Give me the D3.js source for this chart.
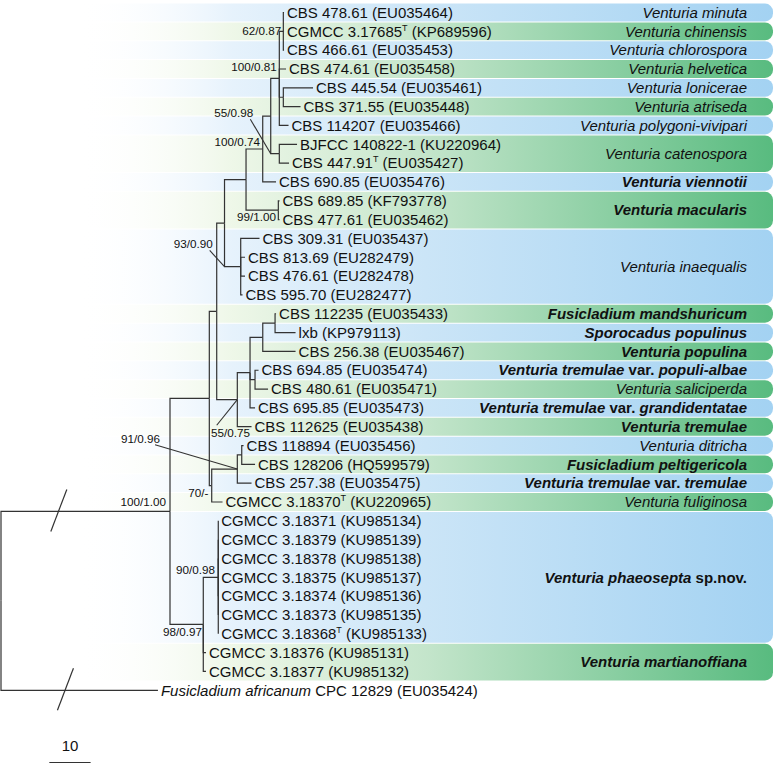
<!DOCTYPE html>
<html><head><meta charset="utf-8">
<script src="https://cdn.jsdelivr.net/npm/d3@7"></script>
<style>html,body{margin:0;padding:0;background:#fff;} svg{display:block;font-family:"Liberation Sans",Arial,Helvetica,sans-serif;}</style>
</head><body><svg id="chart" width="774" height="765"></svg>
<script>
// ---------------- DATA ----------------
const leafStrains = [
  "CBS 478.61","CGMCC 3.17685","CBS 466.61","CBS 474.61","CBS 445.54","CBS 371.55","CBS 114207",
  "BJFCC 140822-1","CBS 447.91","CBS 690.85","CBS 689.85","CBS 477.61",
  "CBS 309.31","CBS 813.69","CBS 476.61","CBS 595.70",
  "CBS 112235","lxb","CBS 256.38","CBS 694.85","CBS 480.61","CBS 695.85","CBS 112625",
  "CBS 118894","CBS 128206","CBS 257.38","CGMCC 3.18370",
  "CGMCC 3.18371","CGMCC 3.18379","CGMCC 3.18378","CGMCC 3.18375","CGMCC 3.18374","CGMCC 3.18373","CGMCC 3.18368",
  "CGMCC 3.18376","CGMCC 3.18377","CPC 12829"];
const leafAccessions = [
  "EU035464","KP689596","EU035453","EU035458","EU035461","EU035448","EU035466",
  "KU220964","EU035427","EU035476","KF793778","EU035462",
  "EU035437","EU282479","EU282478","EU282477",
  "EU035433","KP979113","EU035467","EU035474","EU035471","EU035473","EU035438",
  "EU035456","HQ599579","EU035475","KU220965",
  "KU985134","KU985139","KU985138","KU985137","KU985136","KU985135","KU985133",
  "KU985131","KU985132","EU035424"];
const typeStrains = ["CGMCC 3.17685","CBS 447.91","CGMCC 3.18370","CGMCC 3.18368"];
const outgroupTaxon = "Fusicladium africanum";

// [node, parent, branch length]
const treeEdges = [
  ["root",null,0],
  ["A","root",40.92],
  ["B","A",9.52],
  ["C","B",1.79],
  ["V","C",1.89],
  ["Z","V",5.21],
  ["W","Z",4.04],
  ["Y","W",1.94],
  ["X","Y",2.08],
  ["P","X",0.97],
  ["L0","P",0.17],["L1","P",0.17],["L2","P",0.17],
  ["L3","X",1.62],
  ["Lon","X",0.97],
  ["L4","Lon",7.19],["L5","Lon",4.16],
  ["L6","X",2.23],
  ["C1","Y",2.08],
  ["L7","C1",4.29],["L8","C1",2.35],
  ["L9","W",3.22],
  ["M","Z",7.82],
  ["L10","M",0.29],["L11","M",0.29],
  ["I","V",3.92],
  ["L12","I",4.55],["L13","I",1.04],["L14","I",1.04],["L15","I",0.44],
  ["T","C",4.99],
  ["U","T",3.08],
  ["S","U",3.08],
  ["F","S",2.98],
  ["L16","F",0.24],["L17","F",4.96],
  ["L18","S",7.94],
  ["Q1","U",1.21],
  ["L19","Q1",0.85],["L20","Q1",3.15],
  ["L21","U",1.21],
  ["L22","T",3.44],
  ["G","B",0.58],
  ["H","G",6.2],
  ["H1","H",1.07],
  ["L23","H1",0.44],["L24","H1",3.22],
  ["L25","H",3.44],
  ["L26","G",2.62],
  ["K","A",8.06],
  ["N","K",3.63],
  ["L27","N",0],["L28","N",0],["L29","N",0],["L30","N",0],["L31","N",0],["L32","N",0],["L33","N",0],
  ["L34","K",0.65],["L35","K",0.65],
  ["L36","root",38.0]
];

const supportNodes  = ["P","X","C1","W","M","I","T","H","G","A","N","K"];
const supportValues = ["62/0.87","100/0.81","55/0.98","100/0.74","99/1.00","93/0.90","55/0.75","91/0.96","70/-","100/1.00","90/0.98","98/0.97"];

const speciesNames = [
  "Venturia minuta","Venturia chinensis","Venturia chlorospora","Venturia helvetica","Venturia lonicerae",
  "Venturia atriseda","Venturia polygoni-vivipari","Venturia catenospora","Venturia viennotii","Venturia macularis",
  "Venturia inaequalis","Fusicladium mandshuricum","Sporocadus populinus","Venturia populina",
  "Venturia tremulae var. populi-albae","Venturia saliciperda","Venturia tremulae var. grandidentatae",
  "Venturia tremulae","Venturia ditricha","Fusicladium peltigericola","Venturia tremulae var. tremulae",
  "Venturia fuliginosa","Venturia phaeosepta sp.nov.","Venturia martianoffiana"];
const speciesRowCounts = [1,1,1,1,1,1,1,2,1,2,4,1,1,1,1,1,1,1,1,1,1,1,7,2];
const speciesBold = [false,false,false,false,false,false,false,false,true,true,false,true,true,true,true,false,true,true,false,true,true,false,true,true];

const scaleBarValue = 10;

// ---------------- LAYOUT (presentation only) ----------------
const W = 774, Hh = 765;
const labelLayout = {
  P:{dx:-2,dy:0}, X:{dx:-2.6,dy:-11.5},
  C1:{dx:-26,dy:-41,leader:"corner",lsx:-3,lsy:6.5},
  W:{dx:-2.7,dy:-7.3}, M:{dx:-2.3,dy:6.5},
  I:{dx:-28,dy:-22.7,leader:"corner",lsx:-3,lsy:6.5},
  T:{dx:12.7,dy:33.6,leader:"node",lsx:-33.3,lsy:-8},
  H:{dx:-77.3,dy:-29.8,leader:"node",lsx:-5,lsy:5.5},
  G:{dx:-3.2,dy:7}, A:{dx:-4,dy:-9.8}, N:{dx:-3.3,dy:-7.4}, K:{dx:-1.3,dy:7.2}
};

const svg = d3.select("#chart");
const defs = svg.append("defs");
function grad(id, stops){
  const g = defs.append("linearGradient").attr("id",id).attr("gradientUnits","userSpaceOnUse")
    .attr("x1",0).attr("x2",W).attr("y1",0).attr("y2",0);
  stops.forEach(s=>g.append("stop").attr("offset",s[0]).attr("stop-color",s[1]).attr("stop-opacity",s[2]));
}
grad("gBlue",[[0,"#ffffff",0],[0.1,"#ffffff",0],[0.3,"#e6f2fc",1],[0.55,"#cbe5f7",1],[1,"#a3d2f2",1]]);
grad("gGreen",[[0,"#ffffff",0],[0.1,"#ffffff",0],[0.3,"#eef7e8",1],[0.55,"#c4e5cb",1],[1,"#58bb7f",1]]);

const yScale = d3.scaleLinear().domain([0,36]).range([12.5,690.3]);
const step = yScale(1)-yScale(0);
const xScale = d3.scaleLinear().domain([0,100]).range([1,414]);

// bands
let r0 = 0;
const bands = speciesNames.map((n,i)=>{ const b={name:n,start:r0,end:r0+speciesRowCounts[i]-1,bold:speciesBold[i],i}; r0+=speciesRowCounts[i]; return b;});
const bandG = svg.append("g");
bandG.selectAll("rect").data(bands).join("rect")
  .attr("x",0).attr("width",773)
  .attr("y",d=>yScale(d.start)-step/2+0.5)
  .attr("height",d=>yScale(d.end)-yScale(d.start)+step-1)
  .attr("rx",8).attr("ry",8)
  .attr("fill",d=>d.i%2===0?"url(#gBlue)":"url(#gGreen)");

// species labels
const spG = svg.append("g").attr("font-size",15).attr("fill","#111");
bands.forEach(b=>{
  const t = spG.append("text").attr("x",747).attr("y",(yScale(b.start)+yScale(b.end))/2).attr("dy","0.35em")
    .attr("text-anchor","end").attr("font-weight",b.bold?"bold":"normal");
  const parts = b.name.split(/( var\. | sp\.nov\.)/);
  parts.forEach(p=>{
    if(!p) return;
    const plain = (p===" var. "||p===" sp.nov.");
    t.append("tspan").attr("font-style",plain?"normal":"italic").text(p);
  });
});

// tree
const root = d3.stratify().id(d=>d[0]).parentId(d=>d[1])(treeEdges);
root.eachBefore(n=>{ n.len = n.parent ? n.parent.len + n.data[2] : 0; n.px = xScale(n.len); });
const leaves = root.leaves();
leaves.forEach((l,i)=>{ l.row=i; });
root.eachAfter(n=>{
  if(n.children){ n.py = (n.children[0].py + n.children[n.children.length-1].py)/2; }
  else n.py = yScale(n.row);
});
const nodeById = new Map(); root.each(n=>nodeById.set(n.id,n));

const treeG = svg.append("g").attr("fill","none").attr("stroke","#333").attr("stroke-width",1.2);
treeG.selectAll("path.link").data(root.descendants().filter(n=>n.parent)).join("path")
  .attr("class","link")
  .attr("d",n=>`M${n.parent.px},${n.parent.py}V${n.py}H${n.px}`);

// break marks on long root branches
const nA = nodeById.get("A"), nOut = nodeById.get("L36");
[[14,nA.py],[15.6,nOut.py]].forEach(([u,y])=>{
  const x = xScale(u);
  treeG.append("line").attr("x1",x+8).attr("y1",y-22).attr("x2",x-8).attr("y2",y+20);
});

// leaf labels
const leafG = svg.append("g").attr("font-size",15).attr("fill","#111");
leaves.forEach((l,i)=>{
  const t = leafG.append("text").attr("x",l.px+3).attr("y",l.py).attr("dy","0.35em");
  if(i===leaves.length-1){
    t.append("tspan").attr("font-style","italic").text(outgroupTaxon+" ");
  }
  t.append("tspan").text(leafStrains[i]);
  if(typeStrains.includes(leafStrains[i])){
    t.append("tspan").attr("font-size",9).attr("dy",-6).text("T");
    t.append("tspan").attr("dy",6).text(" ("+leafAccessions[i]+")");
  } else {
    t.append("tspan").text(" ("+leafAccessions[i]+")");
  }
});

// support values
const supG = svg.append("g").attr("font-size",11.7).attr("fill","#111");
supportNodes.forEach((id,i)=>{
  const n = nodeById.get(id), L = labelLayout[id];
  const lx = n.px + L.dx, ly = n.py + L.dy;
  supG.append("text").attr("x",lx).attr("y",ly).attr("dy","0.35em").attr("text-anchor","end").text(supportValues[i]);
  if(L.leader){
    const tx = L.leader==="corner" ? n.parent.px : n.px;
    svg.append("line").attr("x1",lx+L.lsx).attr("y1",ly+L.lsy).attr("x2",tx).attr("y2",n.py)
      .attr("stroke","#333").attr("stroke-width",1.1);
  }
});

// scale bar
const sbX0 = xScale(11.7), sbX1 = xScale(11.7+scaleBarValue);
svg.append("line").attr("x1",sbX0).attr("x2",sbX1).attr("y1",762.5).attr("y2",762.5).attr("stroke","#333").attr("stroke-width",1.2);
svg.append("text").attr("x",(sbX0+sbX1)/2).attr("y",746).attr("dy","0.35em").attr("text-anchor","middle")
  .attr("font-size",15).attr("fill","#111").text(String(scaleBarValue));
</script></body></html>
